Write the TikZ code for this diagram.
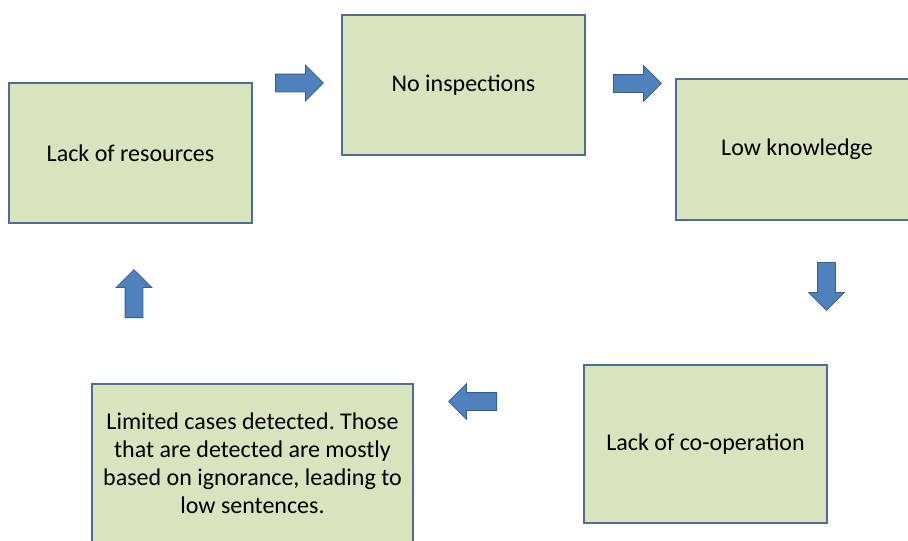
\documentclass[tikz,border=0pt]{standalone}
\usepackage{fontspec}
\setmainfont{Carlito}
\usetikzlibrary{shapes.arrows}
\definecolor{boxfill}{RGB}{215,228,189}
\definecolor{boxline}{RGB}{79,108,150}
\definecolor{arrowfill}{RGB}{79,129,189}
\definecolor{arrowline}{RGB}{56,93,138}
\frenchspacing

\begin{document}
\begin{tikzpicture}[x=1pt, y=-1pt,
  box/.style={draw=boxline, fill=boxfill, line width=1.2pt, align=center,
    font=\fontsize{24}{28}\selectfont, inner sep=0pt},
  blockarrow/.style={single arrow, draw=arrowline, fill=arrowfill, line width=0.8pt,
    inner xsep=0pt, inner ysep=8.5pt, single arrow head extend=9pt, minimum height=48pt,
    anchor=tail}]
  \useasboundingbox[fill=white] (0,0) rectangle (908,541);
  \clip (0,0) rectangle (908,541);
  % boxes
  \node[box, minimum width=243pt, minimum height=140pt] (res) at (130.5,153) {Lack of resources};
  \node[box, minimum width=243pt, minimum height=140pt] (insp) at (463.5,85) {No inspections};
  \node[box, minimum width=242pt, minimum height=141pt] (know) at (797,149.5) {Low knowledge};
  \node[box, minimum width=243pt, minimum height=158pt] (coop) at (705.5,444) {Lack of co-operation};
  \node[box, minimum width=321pt, minimum height=159pt] (cases) at (252.5,463.5)
    {Limited cases detected. Those\\that are detected are mostly\\based on ignorance, leading to\\low sentences.};
  % block arrows, placed by their tails
  \node[blockarrow] (a1) at (275,83) {};
  \node[blockarrow] (a2) at (613,83.5) {};
  \node[blockarrow, rotate=-90] (a3) at (826.5,262) {};
  \node[blockarrow, rotate=180] (a4) at (497,401.5) {};
  \node[blockarrow, rotate=90] (a5) at (134,318) {};
\end{tikzpicture}
\end{document}
